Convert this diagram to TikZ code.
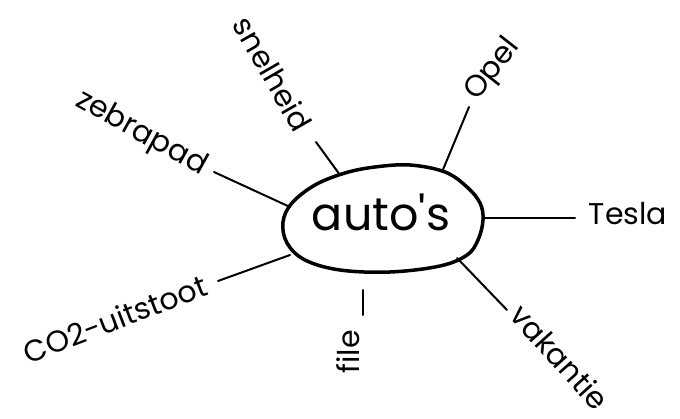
\documentclass[tikz,border=0pt]{standalone}
\usepackage{fontspec}
\setmainfont{Poppins}
\usetikzlibrary{positioning}

\tikzset{
  spoke/.style={line width=2pt, line cap=round},
  label/.style={font=\fontsize{30}{35}\selectfont, inner sep=0pt},
}

\begin{document}
\begin{tikzpicture}[x=1pt, y=-1pt]
\useasboundingbox (0,0) rectangle (680,419);
% centre
\draw[line width=3.5pt] plot[smooth cycle, tension=0.6] coordinates {
(410,165) (445,172) (467,187) (480,203) (483,220) (478,240) (467,255)
(440,266) (390,272) (340,270) (305,260) (287,243) (283,222) (292,203)
(315,185) (345,173) (375,167)};
\node[font=\fontsize{46}{52}\selectfont, inner sep=0pt] (auto) at (381,212) {auto\textquotesingle s};

% labels
\node[label, rotate=-60] (snelheid) at (273,74) {snelheid};
\node[label, rotate=-29] (zebrapad) at (141,134) {zebrapad};
\node[label, rotate=52] (opel) at (493,70) {Opel};
\node[label] (tesla) at (628,214) {Tesla};
\node[label, rotate=-48] (vakantie) at (560,357) {vakantie};
\node[label, rotate=90] (file) at (348,352) {file};
\node[label, rotate=21] (co2) at (115,319) {CO2-uitstoot};

% spokes
\coordinate (snelheid-a) at (340,175);
\coordinate (snelheid-b) at (316,142);
\coordinate (zebrapad-a) at (290,207);
\coordinate (zebrapad-b) at (214,172);
\coordinate (opel-a) at (442,172);
\coordinate (opel-b) at (469,107);
\coordinate (tesla-a) at (483,218);
\coordinate (tesla-b) at (575,218);
\coordinate (vakantie-a) at (457,258);
\coordinate (vakantie-b) at (507,310);
\coordinate (file-a) at (363,290);
\coordinate (file-b) at (363,315);
\coordinate (co2-a) at (290,255);
\coordinate (co2-b) at (218,281);

\foreach \s in {snelheid,zebrapad,opel,tesla,vakantie,file,co2}
  \draw[spoke] (\s-a) -- (\s-b);
\end{tikzpicture}
\end{document}
